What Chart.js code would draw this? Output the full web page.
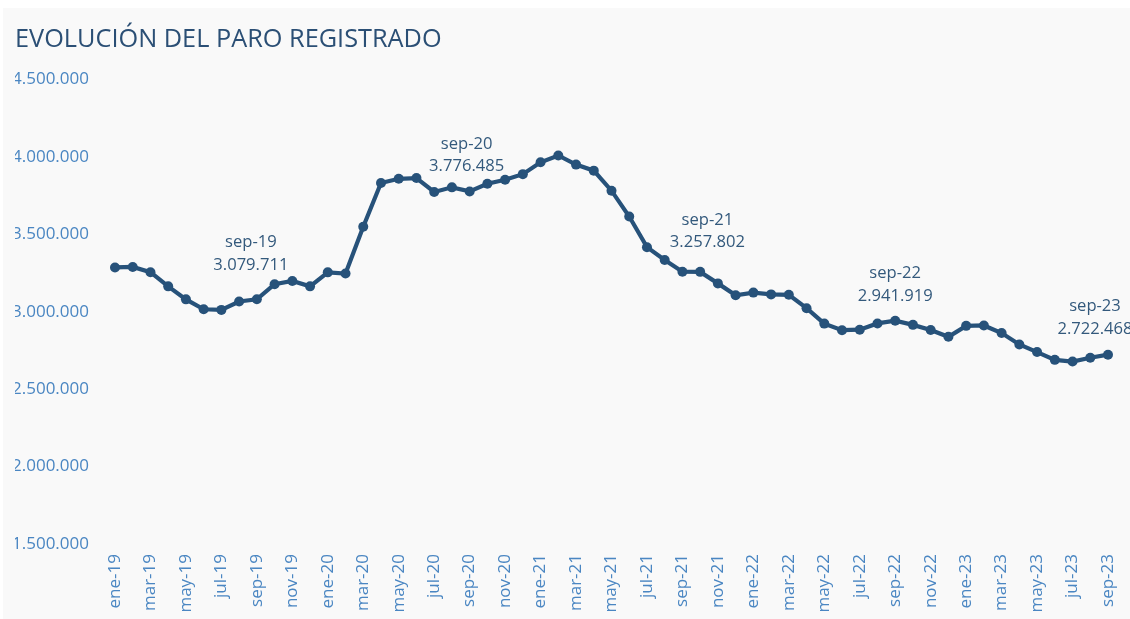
<!DOCTYPE html>
<html>
<head>
<meta charset="utf-8">
<script src="https://cdn.jsdelivr.net/npm/chart.js@4.4.1/dist/chart.umd.min.js"></script>
<style>
  html, body { margin: 0; padding: 0; background: #ffffff; }
  #wrap { position: absolute; left: 3px; top: 8px; width: 1127px; height: 611px; background: #f9f9f9; }
</style>
</head>
<body>
<div id="wrap"><canvas id="paro"></canvas></div>
<script>
// meses ene-19 .. sep-23
const Meses = ['ene-19','feb-19','mar-19','abr-19','may-19','jun-19','jul-19','ago-19','sep-19','oct-19','nov-19','dic-19',
    'ene-20','feb-20','mar-20','abr-20','may-20','jun-20','jul-20','ago-20','sep-20','oct-20','nov-20','dic-20',
    'ene-21','feb-21','mar-21','abr-21','may-21','jun-21','jul-21','ago-21','sep-21','oct-21','nov-21','dic-21',
    'ene-22','feb-22','mar-22','abr-22','may-22','jun-22','jul-22','ago-22','sep-22','oct-22','nov-22','dic-22',
    'ene-23','feb-23','mar-23','abr-23','may-23','jun-23','jul-23','ago-23','sep-23'];

const Parados = [3285761, 3289040, 3255084, 3163566, 3079491, 3015686, 3011433, 3065804, 3079711, 3177659, 3198184, 3163605,
    3253853, 3246047, 3548312, 3831203, 3857776, 3862883, 3773034, 3802814, 3776485, 3826043, 3851312, 3888137,
    3964353, 4008789, 3949640, 3910628, 3781250, 3614339, 3416498, 3333915, 3257802, 3257068, 3182687, 3105905,
    3123078, 3111684, 3108763, 3022503, 2922991, 2880582, 2883812, 2924240, 2941919, 2914892, 2881380, 2837653,
    2908397, 2911015, 2862260, 2788370, 2739110, 2688842, 2677874, 2702700, 2722468];

const TicksY = [1500000, 2000000, 2500000, 3000000, 3500000, 4000000, 4500000];

// meses anotados
const Anotados = ['sep-19', 'sep-20', 'sep-21', 'sep-22', 'sep-23'];
// desplazamiento del texto respecto al punto [dx, dy linea 1, dy linea 2]
const Desplaz = [[-6, -57, -34], [-3, -47, -25], [25, -51, -29], [0, -47, -24], [-13, -48, -25]];

function fmt(n) {
    return String(n).replace(/\B(?=(\d{3})+(?!\d))/g, '.');
}

const etiquetas = {
    id: 'etiquetas',
    afterDatasetsDraw(chart) {
        const ctx = chart.ctx;
        const meta = chart.getDatasetMeta(0);
        ctx.save();
        ctx.font = '16.6px "Open Sans"';
        ctx.fillStyle = '#33597c';
        ctx.textAlign = 'center';
        ctx.textBaseline = 'middle';
        Anotados.forEach(function (mes, k) {
            const i = Meses.indexOf(mes);
            const p = meta.data[i];
            const d = Desplaz[k];
            ctx.fillText(mes, p.x + d[0], p.y + d[1]);
            ctx.fillText(fmt(Parados[i]), p.x + d[0], p.y + d[2]);
        });
        ctx.restore();
    }
};

const data = {
    labels: Meses,
    datasets: [{
        data: Parados,
        borderColor: '#27527a',
        backgroundColor: '#27527a',
        borderWidth: 4.2,
        pointRadius: 5,
        pointHoverRadius: 5,
        pointBorderWidth: 0,
        tension: 0
    }]
};

const config = {
    type: 'line',
    data: data,
    options: {
        responsive: true,
        maintainAspectRatio: false,
        animation: false,
        layout: { padding: { left: 12, right: 22, top: 0, bottom: 0 } },
        scales: {
            x: {
                grid: { display: false, drawTicks: false },
                border: { display: false },
                ticks: {
                    autoSkip: false,
                    minRotation: 90,
                    maxRotation: 90,
                    padding: 10,
                    color: '#4a86c2',
                    font: { family: 'Open Sans', size: 17 },
                    callback: function (v, i) { return i % 2 === 0 ? Meses[i] : ''; }
                },
                afterFit: function (s) { s.height = 75; s.paddingRight = 0; }
            },
            y: {
                min: 1500000,
                max: 4500000,
                grid: { display: false, drawTicks: false },
                border: { display: false },
                afterBuildTicks: function (s) { s.ticks = TicksY.map(v => ({ value: v })); },
                ticks: {
                    padding: 26,
                    color: '#4a86c2',
                    font: { family: 'Open Sans', size: 17 },
                    callback: function (v) { return fmt(v); }
                },
                afterFit: function (s) { s.width = 100; }
            }
        },
        plugins: {
            legend: { display: false },
            tooltip: { enabled: false },
            title: {
                display: true,
                text: 'EVOLUCIÓN DEL PARO REGISTRADO',
                align: 'start',
                color: '#2b4f75',
                font: { family: 'Open Sans', size: 25.3, weight: 'normal', lineHeight: 1.2 },
                padding: { top: 17, bottom: 24 }
            }
        }
    },
    plugins: [etiquetas]
};

const chart = new Chart(document.getElementById('paro'), config);
</script>
</body>
</html>
